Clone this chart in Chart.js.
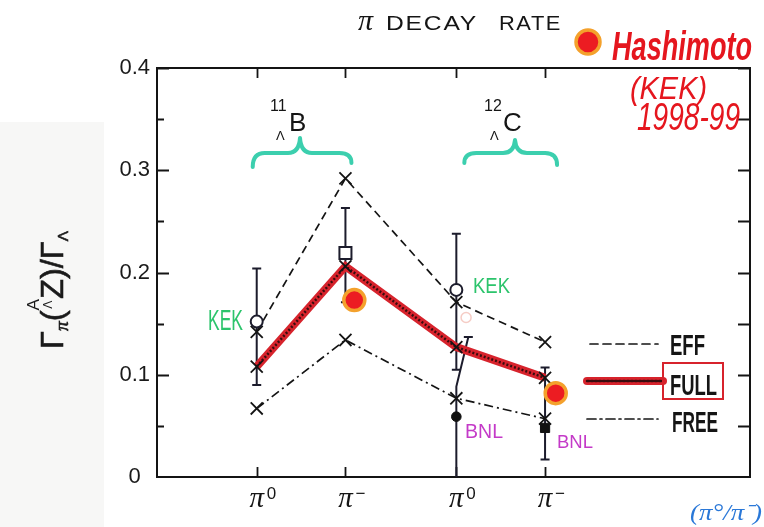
<!DOCTYPE html>
<html>
<head>
<meta charset="utf-8">
<title>π decay rate</title>
<script src="https://cdn.jsdelivr.net/npm/chart.js@4.4.1/dist/chart.umd.min.js"></script>
<style>
  html, body { margin: 0; padding: 0; background: #fff; }
  #wrap { width: 764px; height: 527px; }
</style>
</head>
<body>
<div id="wrap"><canvas id="c" width="764" height="527"></canvas></div>
<script>
// Decay channels on the x axis: π0 and π− for each hypernucleus
const channels = ['0', '−', '0', '−'];
const channelPos = [1, 2, 3.25, 4.25];

// Model predictions of Γπ/ΓΛ
const effValues  = [0.142, 0.292, 0.171, 0.132];
const fullValues = [0.108, 0.206, 0.127, 0.097];
const freeValues = [0.067, 0.134, 0.077, 0.057];

// KEK measurements: 11B π0, 11B π−, 12C π0
const kekPos    = [1, 2, 3.25];
const kekValues = [0.152, 0.219, 0.183];
const kekLow    = [0.090, 0.171, 0.105];
const kekHigh   = [0.204, 0.263, 0.238];

// BNL measurements: 12C π0, 12C π−
const bnlPos    = [3.25, 4.25];
const bnlValues = [0.059, 0.048];
const bnlLow    = [0, 0.017];
const bnlHigh   = [0.137, 0.107];

// Hashimoto (KEK) 1998–99 results
const hashPos    = [2.10, 4.37];
const hashValues = [0.173, 0.082];

// faint marker near 12C π0
const faintPos    = [3.36];
const faintValues = [0.156];

const yTicks = [0, 0.1, 0.2, 0.3, 0.4];

const INK = '#141414';
const RED = '#d7232c';
const pts = (xs, ys) => xs.map((x, i) => ({ x, y: ys[i] }));

function fitText(ctx, text, x, y, w, font, color) {
  ctx.save();
  ctx.font = font;
  ctx.fillStyle = color;
  ctx.textAlign = 'left';
  ctx.textBaseline = 'alphabetic';
  const m = ctx.measureText(text).width;
  ctx.translate(x, y);
  ctx.scale(w / m, 1);
  ctx.fillText(text, 0, 0);
  ctx.restore();
}

function plainText(ctx, text, x, y, font, color, align) {
  ctx.save();
  ctx.font = font;
  ctx.fillStyle = color;
  ctx.textAlign = align || 'left';
  ctx.textBaseline = 'alphabetic';
  ctx.fillText(text, x, y);
  ctx.restore();
}

function brace(ctx, x1, x2, xm, yEnd1, yEnd2, yMid, yCusp) {
  ctx.beginPath();
  ctx.moveTo(x1, yEnd1);
  ctx.quadraticCurveTo(x1, yMid, x1 + 12, yMid);
  ctx.lineTo(xm - 12, yMid);
  ctx.quadraticCurveTo(xm - 1, yMid, xm, yCusp);
  ctx.quadraticCurveTo(xm + 1, yMid, xm + 12, yMid);
  ctx.lineTo(x2 - 12, yMid);
  ctx.quadraticCurveTo(x2, yMid, x2, yEnd2);
  ctx.stroke();
}

// Γπ(ΛAZ)/ΓΛ written along the rotated y-axis title
function drawYTitle(ctx, cx, cy, length) {
  const big = '32px "Liberation Sans"';
  const segs = [
    { t: 'Γ', f: big, dy: 0 },
    { t: 'π', f: 'italic 19px "Liberation Serif"', dy: 5 },
    { t: '(', f: big, dy: 0 },
    { stack: [{ t: 'A', f: '17px "Liberation Sans"', dy: -24 }, { t: 'Λ', f: '12px "Liberation Sans"', dy: -11 }] },
    { t: 'Z', f: big, dy: 0 },
    { t: ')', f: big, dy: 0 },
    { t: '/', f: big, dy: 0 },
    { t: 'Γ', f: big, dy: 0 },
    { t: 'Λ', f: '15px "Liberation Sans"', dy: 5 }
  ];
  ctx.save();
  const widths = segs.map(s => {
    if (s.stack) {
      return Math.max(...s.stack.map(p => { ctx.font = p.f; return ctx.measureText(p.t).width; }));
    }
    ctx.font = s.f; return ctx.measureText(s.t).width;
  });
  const total = widths.reduce((a, b) => a + b, 0);
  ctx.translate(cx, cy);
  ctx.rotate(-Math.PI / 2);
  ctx.scale(length / total, 1);
  ctx.fillStyle = '#1a1a1a';
  ctx.strokeStyle = '#1a1a1a';
  ctx.lineWidth = 0.6;
  ctx.textBaseline = 'alphabetic';
  let x = -total / 2;
  segs.forEach((s, i) => {
    if (s.stack) {
      s.stack.forEach(p => {
        ctx.font = p.f;
        const w = ctx.measureText(p.t).width;
        ctx.fillText(p.t, x + (widths[i] - w) / 2, p.dy);
      });
    } else {
      ctx.font = s.f;
      ctx.fillText(s.t, x, s.dy);
      ctx.strokeText(s.t, x, s.dy);
    }
    x += widths[i];
  });
  ctx.restore();
}

const decor = {
  id: 'decor',
  beforeDraw(chart) {
    const ctx = chart.ctx;
    ctx.save();
    ctx.fillStyle = '#ffffff';
    ctx.fillRect(0, 0, chart.width, chart.height);
    ctx.fillStyle = '#f7f7f6';
    ctx.fillRect(0, 122, 104, chart.height - 122);
    ctx.restore();
  },
  beforeDatasetsDraw(chart) {
    const ctx = chart.ctx;
    const xs = chart.scales.x, ys = chart.scales.y;
    const a = chart.chartArea;
    ctx.save();
    // frame
    ctx.strokeStyle = INK;
    ctx.lineWidth = 2;
    ctx.strokeRect(a.left, a.top, a.right - a.left, a.bottom - a.top);
    // inward ticks on the left and right axes
    ctx.lineWidth = 1.8;
    for (let v = 0.05; v < 0.4; v += 0.05) {
      const y = Math.round(ys.getPixelForValue(v)) + 0.5;
      const major = Math.abs(v * 10 - Math.round(v * 10)) < 1e-6;
      ctx.beginPath();
      ctx.moveTo(a.left, y); ctx.lineTo(a.left + (major ? 12 : 7), y);
      ctx.moveTo(a.right, y); ctx.lineTo(a.right - 12, y);
      ctx.stroke();
    }
    // inward ticks at each channel, bottom and top
    channelPos.forEach(p => {
      const x = Math.round(xs.getPixelForValue(p)) + 0.5;
      ctx.beginPath();
      ctx.moveTo(x, a.bottom); ctx.lineTo(x, a.bottom - 10);
      ctx.moveTo(x, a.top); ctx.lineTo(x, a.top + 10);
      ctx.stroke();
    });

    // error bars
    const bar = (p, lo, hi, capLow, shiftTop) => {
      const x = xs.getPixelForValue(p);
      const y1 = ys.getPixelForValue(lo), y2 = ys.getPixelForValue(hi);
      ctx.beginPath();
      if (shiftTop) {
        const yk = ys.getPixelForValue((lo + hi) / 2 + 0.02);
        ctx.moveTo(x, y1); ctx.lineTo(x, yk);
        ctx.lineTo(x + shiftTop, y2);
        ctx.moveTo(x + shiftTop - 4.5, y2); ctx.lineTo(x + shiftTop + 4.5, y2);
      } else {
        ctx.moveTo(x, y1); ctx.lineTo(x, y2);
        ctx.moveTo(x - 4.5, y2); ctx.lineTo(x + 4.5, y2);
      }
      if (capLow) { ctx.moveTo(x - 4.5, y1); ctx.lineTo(x + 4.5, y1); }
      ctx.stroke();
    };
    ctx.strokeStyle = '#1c1c2c';
    ctx.lineWidth = 2;
    kekPos.forEach((p, i) => bar(p, kekLow[i], kekHigh[i], true, 0));
    bnlPos.forEach((p, i) => bar(p, bnlLow[i], bnlHigh[i], bnlLow[i] > 0, i === 0 ? 12 : 0));
    ctx.restore();
  },
  afterDraw(chart) {
    const ctx = chart.ctx;
    const xs = chart.scales.x;
    const a = chart.chartArea;

    // channel labels under the axis
    channelPos.forEach((p, i) => {
      const x = xs.getPixelForValue(p);
      plainText(ctx, 'π', x, a.bottom + 30, 'italic 29px "Liberation Serif"', '#151515', 'center');
      plainText(ctx, channels[i], x + 10, a.bottom + 22, '17px "Liberation Sans"', '#151515', 'left');
    });

    // title
    plainText(ctx, 'π', 358, 30, 'italic 30px "Liberation Serif"', '#151515');
    ctx.save();
    ctx.letterSpacing = '1.5px';
    fitText(ctx, 'DECAY', 386, 30, 92, '21px "Liberation Sans"', '#151515');
    fitText(ctx, 'RATE', 499, 30, 63, '21px "Liberation Sans"', '#151515');
    ctx.restore();

    // y-axis title
    drawYTitle(ctx, 63, 290, 118);

    // hypernucleus labels with braces
    const nuc = [
      { mass: '11', sym: 'B', x0: 270 },
      { mass: '12', sym: 'C', x0: 484 }
    ];
    nuc.forEach(n => {
      plainText(ctx, n.mass, n.x0, 111, '16px "Liberation Sans"', '#151515');
      plainText(ctx, n.sym, n.x0 + 19, 131, '26px "Liberation Sans"', '#151515');
      plainText(ctx, 'Λ', n.x0 + 6, 140, '13px "Liberation Sans"', '#151515');
    });
    ctx.save();
    ctx.strokeStyle = '#3ccfae';
    ctx.lineWidth = 4;
    ctx.lineCap = 'round';
    ctx.lineJoin = 'round';
    const b1a = xs.getPixelForValue(channelPos[0]) - 4, b1b = xs.getPixelForValue(channelPos[1]) + 6;
    brace(ctx, b1a, b1b, 300, 167, 163, 153, 138);
    const b2a = xs.getPixelForValue(channelPos[2]) + 8, b2b = xs.getPixelForValue(channelPos[3]) + 12;
    brace(ctx, b2a, b2b, 515, 163, 165, 153, 140);
    ctx.restore();

    // experiment tags
    fitText(ctx, 'KEK', 208, 330, 35, '29px "Liberation Sans"', '#2cc46c');
    fitText(ctx, 'KEK', 473, 293, 37, '22px "Liberation Sans"', '#2cc46c');
    fitText(ctx, 'BNL', 465, 438, 38, '20px "Liberation Sans"', '#c43ac8');
    fitText(ctx, 'BNL', 557, 448, 36, '19px "Liberation Sans"', '#c43ac8');

    // legend
    const ds = chart.data.datasets;
    const legendLine = (d, x1, x2, y) => {
      ctx.save();
      ctx.strokeStyle = d.borderColor;
      ctx.lineWidth = d.borderWidth;
      ctx.lineCap = 'round';
      ctx.setLineDash(d.borderDash || []);
      ctx.beginPath(); ctx.moveTo(x1, y); ctx.lineTo(x2, y); ctx.stroke();
      ctx.restore();
    };
    legendLine(ds[4], 590, 658, 344);
    legendLine(ds[3], 587, 663, 381);
    legendLine(ds[2], 587, 663, 381);
    legendLine(ds[5], 587, 658, 419);
    fitText(ctx, 'EFF', 670, 355, 35, 'bold 30px "Liberation Sans"', '#151515');
    fitText(ctx, 'FULL', 670, 395, 47, 'bold 30px "Liberation Sans"', '#151515');
    fitText(ctx, 'FREE', 672, 432, 46, 'bold 30px "Liberation Sans"', '#151515');
    ctx.save();
    ctx.strokeStyle = RED;
    ctx.lineWidth = 2;
    ctx.strokeRect(663, 363, 60, 36);
    ctx.restore();

    // Hashimoto annotation
    ctx.save();
    ctx.beginPath(); ctx.arc(588, 42, 12, 0, Math.PI * 2);
    ctx.fillStyle = '#ec1c22'; ctx.fill();
    ctx.lineWidth = 3.5; ctx.strokeStyle = '#f4a12c'; ctx.stroke();
    ctx.restore();
    fitText(ctx, 'Hashimoto', 612, 60, 140, 'italic bold 40px "Liberation Sans"', '#e5161e');
    fitText(ctx, '(KEK)', 630, 99, 77, 'italic 32px "Liberation Sans"', '#e5161e');
    fitText(ctx, '1998-99', 637, 130, 103, 'italic 38px "Liberation Sans"', '#e5161e');

    // ratio note
    fitText(ctx, '(π°/π⁻)', 690, 520, 72, 'italic 24px "Liberation Serif"', '#2a78d8');
  }
};

const cross = { pointStyle: 'crossRot', pointRadius: 8.5, pointBorderWidth: 1.8, pointBorderColor: INK, pointHoverRadius: 8.5 };

new Chart(document.getElementById('c'), {
  type: 'line',
  data: {
    datasets: [
      { label: 'Hashimoto', data: pts(hashPos, hashValues), showLine: false, order: 0,
        pointStyle: 'circle', pointRadius: 10.5, pointBackgroundColor: '#ec1c22',
        pointBorderColor: '#f4a12c', pointBorderWidth: 3.5 },
      { label: 'KEK', data: pts(kekPos, kekValues), showLine: false, order: 1,
        pointStyle: ['circle', 'rect', 'circle'], pointRadius: [6, 8.5, 6],
        pointBackgroundColor: '#ffffff', pointBorderColor: '#1c1c2c', pointBorderWidth: 2 },
      { label: 'FULL', data: pts(channelPos, fullValues), order: 2, borderColor: '#3a0c0e',
        borderWidth: 2.5, borderDash: [2, 2], fill: false, tension: 0, ...cross },
      { label: 'FULL band', data: pts(channelPos, fullValues), order: 3, borderColor: RED,
        borderWidth: 8, pointRadius: 0, fill: false, tension: 0 },
      { label: 'EFF', data: pts(channelPos, effValues), order: 4, borderColor: INK,
        borderWidth: 1.7, borderDash: [8, 5], fill: false, tension: 0, ...cross },
      { label: 'FREE', data: pts(channelPos, freeValues), order: 4, borderColor: INK,
        borderWidth: 1.7, borderDash: [9, 4, 2, 4], fill: false, tension: 0, ...cross },
      { label: 'BNL', data: pts(bnlPos, bnlValues), showLine: false, order: 1,
        pointStyle: ['circle', 'rect'], pointRadius: [4.8, 6.5],
        pointBackgroundColor: '#111111', pointBorderColor: '#111111', pointBorderWidth: 1 },
      { label: 'faint', data: pts(faintPos, faintValues), showLine: false, order: 5,
        pointStyle: 'circle', pointRadius: 5, pointBackgroundColor: 'rgba(0,0,0,0)',
        pointBorderColor: 'rgba(225,110,90,0.35)', pointBorderWidth: 1.5 }
    ]
  },
  options: {
    responsive: false,
    animation: false,
    devicePixelRatio: 1,
    layout: { padding: { top: 68, right: 12, bottom: 50, left: 0 } },
    plugins: { legend: { display: false }, tooltip: { enabled: false } },
    scales: {
      x: { type: 'linear', min: -0.124, max: 6.56, display: false },
      y: {
        min: 0, max: 0.4, position: 'left',
        afterBuildTicks: s => { s.ticks = yTicks.map(v => ({ value: v })); },
        afterFit: s => { s.width = 157; },
        ticks: {
          color: '#1a1a1a', padding: 7, crossAlign: 'center',
          font: { family: '"Liberation Sans", Arial, sans-serif', size: 22 },
          callback: v => (v === 0 ? '0' : v.toFixed(1))
        },
        grid: { display: false, drawTicks: false },
        border: { display: false }
      }
    }
  },
  plugins: [decor]
});
</script>
</body>
</html>
